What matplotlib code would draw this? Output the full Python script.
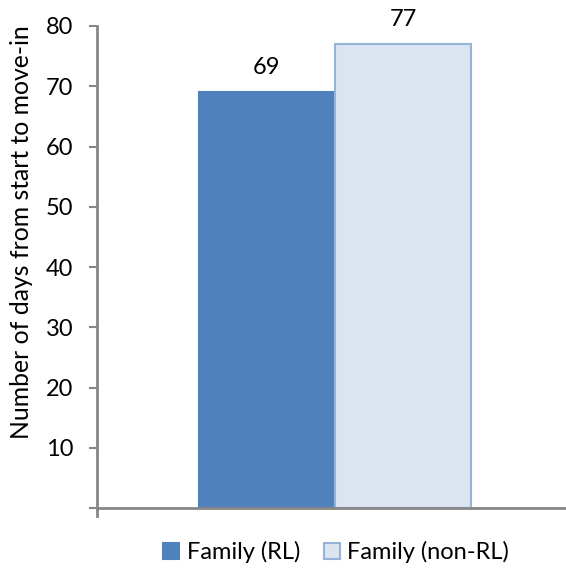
import matplotlib.pyplot as plt
from matplotlib.patches import Patch

# data
series = ["Family (RL)", "Family (non-RL)"]
values = [69, 77]
fills = ["#4F81BD", "#DBE5F1"]
edges = ["#4F81BD", "#95B3D7"]
yticks = [0, 10, 20, 30, 40, 50, 60, 70, 80]
ytick_labels = ["", "10", "20", "30", "40", "50", "60", "70", "80"]

plt.rcParams["font.family"] = ["Lato", "DejaVu Sans"]
FS = 17

W, H = 566, 569
fig = plt.figure(figsize=(W / 100, H / 100), dpi=100)
# axes box in pixel terms: left 97, right 573, top 26, bottom 508
ax = fig.add_axes([97 / W, 1 - 508 / H, (573 - 97) / W, (508 - 26) / H])

bar_w = 0.286
offsets = [-bar_w / 2, bar_w / 2]
for name, v, fc, ec, off in zip(series, values, fills, edges, offsets):
    ax.bar(off, v, width=bar_w, color=fc, edgecolor=ec, linewidth=1.5, label=name)
    ax.text(off, v + 2.3, str(v), ha="center", va="bottom", fontsize=FS)

ax.set_xlim(-0.5, 0.5)
ax.set_ylim(0, 80)
ax.set_yticks(yticks)
ax.set_yticklabels(ytick_labels, fontsize=FS)
ax.set_xticks([])
ax.tick_params(axis="y", direction="out", length=6, width=1.5, color="#868686", pad=11)

for side in ["top", "right"]:
    ax.spines[side].set_visible(False)
for side in ["left", "bottom"]:
    ax.spines[side].set_color("#868686")
    ax.spines[side].set_linewidth(2)
ax.spines["left"].set_bounds(0, 80)
# little category tick below the axis at the left end
ax.plot([-0.5, -0.5], [0, -1.4], color="#868686", lw=2, clip_on=False)

fig.text(22 / W, 1 - 232 / H, "Number of days from start to move-in",
         rotation=90, ha="center", va="center", fontsize=17.8)

handles = [Patch(facecolor=fc, edgecolor=ec, linewidth=1.5) for fc, ec in zip(fills, edges)]
fig.legend(handles, series, loc="center", bbox_to_anchor=(336 / W, 1 - 552 / H),
           ncol=2, frameon=False, fontsize=FS, handlelength=0.7, handleheight=0.7,
           handletextpad=0.3, columnspacing=1.0)

fig.savefig("out.png", dpi=100)
